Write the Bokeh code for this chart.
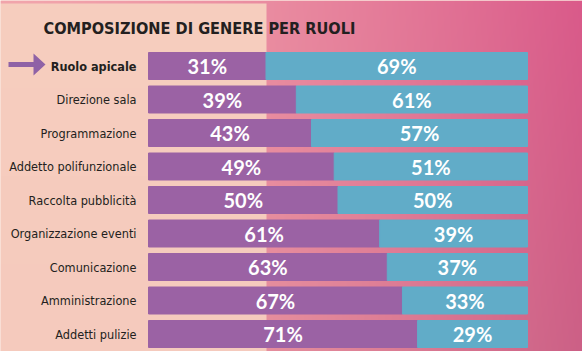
import numpy as np
from bokeh.plotting import figure
from bokeh.models import Range1d, ColumnDataSource
from bokeh.core.properties import value
from bokeh.embed import file_html
from bokeh.resources import INLINE

# ---- data ----
title_text = "COMPOSIZIONE DI GENERE PER RUOLI"
roles = ["Ruolo apicale", "Direzione sala", "Programmazione", "Addetto polifunzionale",
         "Raccolta pubblicità", "Organizzazione eventi", "Comunicazione",
         "Amministrazione", "Addetti pulizie"]
share_purple = [31, 39, 43, 49, 50, 61, 63, 67, 71]
share_teal = [69, 61, 57, 51, 50, 39, 37, 33, 29]

PURPLE = "#9b62a4"
TEAL = "#61acc8"
LABEL_FONT = value("'DejaVu Sans Condensed', 'Liberation Sans', sans-serif")

W, H = 582, 351
SX = 3.79          # px per percent
X0 = 148           # px of 0%
ROW0 = 65.5        # px of first row centre
STEP = 33.5        # px between rows
N = len(roles)

def px_x(px):
    return (px - X0) / SX

def px_y(py):
    return ((ROW0 + STEP * (N - 1)) - py) / STEP

p = figure(width=W, height=H, output_backend="svg", toolbar_location=None,
           x_axis_type=None, y_axis_type=None, min_border=0,
           x_range=Range1d(px_x(0), px_x(W)), y_range=Range1d(px_y(H), px_y(0)))
p.outline_line_color = None
p.grid.visible = False
p.background_fill_color = "#f7cdbe"
p.border_fill_color = "#f7cdbe"

# ---- background gradient ----
xs = np.arange(W)[None, :].astype(float)
ys = np.arange(H)[:, None].astype(float)
t = np.clip(xs / W, 0, 1) ** 1.4
v = ys / H
r = 242 - 24 * t - 14 * v * t + 0 * ys
g = 165 - 75 * t + 6 * v * t + 0 * ys
b = 172 - 34 * t - 4 * v + 0 * xs
panel = np.broadcast_to((xs < 266) & (ys >= 3), r.shape)
pr = 247 - 2 * v + 0 * xs
pg = 206 - 4 * v + 0 * xs
pb = 191 - 2 * v + 0 * xs
r = np.where(panel, pr, r)
g = np.where(panel, pg, g)
b = np.where(panel, pb, b)
img = np.zeros((H, W), dtype=np.uint32)
view = img.view(dtype=np.uint8).reshape((H, W, 4))
view[:, :, 0] = np.clip(r, 0, 255).astype(np.uint8)
view[:, :, 1] = np.clip(g, 0, 255).astype(np.uint8)
view[:, :, 2] = np.clip(b, 0, 255).astype(np.uint8)
view[:, :, 3] = 255
img = img[::-1]
p.image_rgba(image=[img], x=px_x(0), y=px_y(H), dw=px_x(W) - px_x(0), dh=px_y(0) - px_y(H))

# ---- bars ----
ypos = [N - 1 - i for i in range(N)]
src = ColumnDataSource(dict(
    y=ypos, p=share_purple,
    r2=[a + b_ for a, b_ in zip(share_purple, share_teal)],
    zero=[0] * N,
    xp=[a / 2 for a in share_purple],
    xt=[a + b_ / 2 for a, b_ in zip(share_purple, share_teal)],
    tp=[f"{a}%" for a in share_purple],
    tt=[f"{b_}%" for b_ in share_teal],
    lab=roles,
    style=["bold"] + ["normal"] * (N - 1),
))
BH = 27 / STEP
p.hbar(y="y", left="zero", right="p", height=BH, color=PURPLE, source=src)
p.hbar(y="y", left="p", right="r2", height=BH, color=TEAL, source=src)

pct_font = value("Lato")
for xcol, tcol in (("xp", "tp"), ("xt", "tt")):
    p.text(x=xcol, y="y", text=tcol, source=src, text_color="white", text_font=pct_font,
           text_font_style="bold", text_font_size="20px", text_align="center",
           text_baseline="middle")

p.text(x=px_x(136), y="y", text="lab", source=src, text_color="#231f20",
       text_font=LABEL_FONT, text_font_style="style",
       text_font_size="12.6px", text_align="right", text_baseline="middle")

# ---- title ----
p.text(x=[px_x(43)], y=[px_y(28)], text=[title_text], text_color="#231f20",
       text_font=LABEL_FONT, text_font_style="bold",
       text_font_size="16.2px", text_align="left", text_baseline="middle")

# ---- arrow ----
arrow_px = [(8, 61.5), (33, 61.5), (33, 53), (45, 64), (33, 75), (33, 66.5), (8, 66.5)]
p.patch([px_x(a) for a, _ in arrow_px], [px_y(b_) for _, b_ in arrow_px],
        color="#8f62a6", line_width=0)

open("out.html", "w").write(file_html(p, INLINE))
